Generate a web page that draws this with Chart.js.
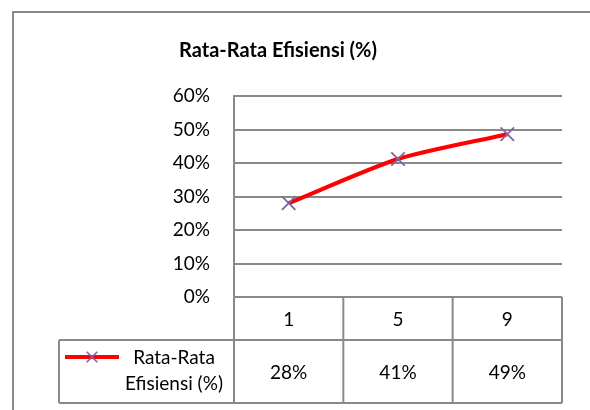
<!DOCTYPE html>
<html>
<head>
<meta charset="utf-8">
<script src="https://cdn.jsdelivr.net/npm/chart.js@4/dist/chart.umd.min.js"></script>
<style>
html,body{margin:0;padding:0;background:#fff;}
#wrap{width:590px;height:410px;position:relative;}
</style>
</head>
<body>
<div id="wrap"><canvas id="c" width="590" height="410"></canvas></div>
<script>
const chartTitle = 'Rata-Rata Efisiensi (%)';
const categories = ['1', '5', '9'];
const seriesName = 'Rata-Rata Efisiensi (%)';
const seriesValues = [0.28, 0.412, 0.486];
const yTicks = [0, 0.1, 0.2, 0.3, 0.4, 0.5, 0.6];

const FONT = 'Lato, "Open Sans", sans-serif';
const GRID = '#898989';
const LINE_COLOR = '#FF0000';
const MARK_COLOR = '#8064A2';

const pct = v => Math.round(v * 100) + '%';

const frameAndTable = {
  id: 'frameAndTable',
  afterDraw(chart) {
    const ctx = chart.ctx;
    const a = chart.chartArea;
    const xs = chart.scales.x;
    const n = categories.length;
    const colW = (a.right - a.left) / n;
    const y0 = a.bottom, y1 = a.bottom + 43, y2 = a.bottom + 106;
    const legLeft = 59;
    ctx.save();
    // outer chart frame
    ctx.strokeStyle = GRID;
    ctx.lineWidth = 2;
    ctx.strokeRect(13, 12, 700, 700);
    // table lines
    ctx.beginPath();
    ctx.moveTo(legLeft, y1); ctx.lineTo(a.right, y1);
    ctx.moveTo(legLeft, y2); ctx.lineTo(a.right, y2);
    ctx.moveTo(legLeft, y1); ctx.lineTo(legLeft, y2);
    for (let i = 0; i <= n; i++) {
      const x = a.left + colW * i;
      ctx.moveTo(x, y0); ctx.lineTo(x, y2);
    }
    ctx.stroke();
    // header and values
    ctx.fillStyle = '#000';
    ctx.textAlign = 'center';
    ctx.textBaseline = 'middle';
    ctx.font = '19px ' + FONT;
    categories.forEach((c, i) => {
      const x = xs.getPixelForValue(i);
      ctx.fillText(c, x, (y0 + y1) / 2 + 1);
      ctx.fillText(pct(seriesValues[i]), x, (y1 + y2) / 2 + 1);
    });
    // legend key
    const ly = y1 + 17;
    ctx.strokeStyle = LINE_COLOR;
    ctx.lineWidth = 4;
    ctx.beginPath(); ctx.moveTo(65, ly); ctx.lineTo(119, ly); ctx.stroke();
    ctx.strokeStyle = MARK_COLOR;
    ctx.lineWidth = 1.6;
    Chart.helpers.drawPoint(ctx, {pointStyle: 'crossRot', radius: 7.5, rotation: 0, borderWidth: 1.6}, 92, ly);
    const sp = seriesName.indexOf(' ');
    const l1 = seriesName.slice(0, sp), l2 = seriesName.slice(sp + 1);
    ctx.fillStyle = '#000';
    ctx.fillText(l1, 174, ly + 1);
    ctx.fillText(l2, 174, ly + 27);
    ctx.restore();
  }
};

new Chart(document.getElementById('c'), {
  type: 'line',
  data: {
    labels: categories,
    datasets: [{
      label: seriesName,
      data: seriesValues,
      borderColor: LINE_COLOR,
      backgroundColor: LINE_COLOR,
      borderWidth: 4,
      tension: 0.25,
      pointStyle: 'crossRot',
      pointRadius: 9.5,
      pointBorderWidth: 1.8,
      pointBorderColor: MARK_COLOR,
      pointBackgroundColor: MARK_COLOR,
      pointHoverRadius: 9.5
    }]
  },
  plugins: [frameAndTable],
  options: {
    responsive: false,
    animation: false,
    events: [],
    layout: { padding: { left: -6, right: 28, top: 39, bottom: 113 } },
    plugins: {
      legend: { display: false },
      tooltip: { enabled: false },
      title: {
        display: true,
        text: chartTitle,
        color: '#000',
        font: { family: FONT, size: 20, weight: 'bold', lineHeight: 1.2 },
        padding: { top: 0, bottom: 33 }
      }
    },
    scales: {
      x: { display: false, offset: true },
      y: {
        min: 0, max: 0.6,
        afterFit(s) { s.width = 240; },
        afterBuildTicks(s) { s.ticks = yTicks.map(v => ({ value: v })); },
        ticks: {
          color: '#000',
          padding: 24,
          font: { family: FONT, size: 19 },
          callback: v => pct(v)
        },
        grid: { color: GRID, lineWidth: 2, drawTicks: false },
        border: { display: true, color: GRID, width: 2 }
      }
    }
  }
});
</script>
</body>
</html>
